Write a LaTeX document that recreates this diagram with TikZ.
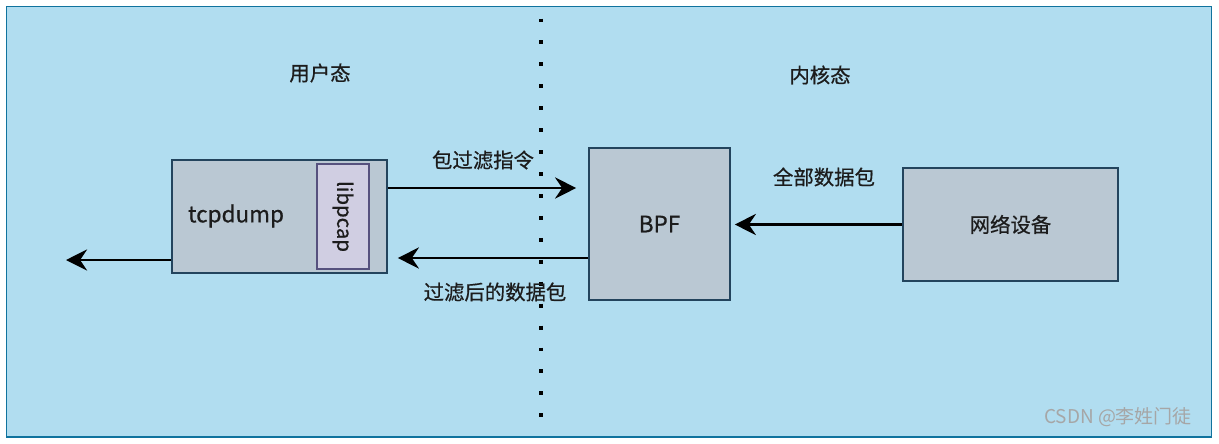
\documentclass[tikz,border=0pt]{standalone}
\usepackage{fontspec}
\setmainfont{Noto Sans CJK SC}[FakeBold=0.6]
\newfontfamily\markfont{Noto Sans CJK SC}
\usetikzlibrary{arrows.meta}

\definecolor{bgfill}{HTML}{B1DDF0}
\definecolor{bgline}{HTML}{10739E}
\definecolor{boxfill}{HTML}{BAC8D3}
\definecolor{boxline}{HTML}{23445D}
\definecolor{libfill}{HTML}{D0CEE2}
\definecolor{libline}{HTML}{56517E}
\definecolor{txt}{HTML}{1C1C1C}

\tikzset{
  blok/.style={draw=boxline, fill=boxfill, line width=1.1pt, inner sep=0pt},
  libblok/.style={draw=libline, fill=libfill, line width=1.1pt, inner sep=0pt},
  lbl/.style={text=txt, font=\fontsize{14.5}{16}\selectfont, inner sep=1pt},
  arr/.style={line width=2pt, -{Stealth[length=15pt,width=15pt,inset=5pt]}},
}

\begin{document}
\begin{tikzpicture}[x=0.025cm, y=-0.025cm]
  \useasboundingbox (0,0) rectangle (1219,443);
  % фон
  \draw[bgline, fill=bgfill, line width=1.2pt] (6.5,6.5) rectangle (1211.5,437);
  % граница user / kernel
  \draw[line width=2.8pt, dash pattern=on 2.8pt off 12.8pt] (541,18.5) -- (541,435);

  \node[lbl] (user) at (320,73) {用户态};
  \node[lbl] (kern) at (820,75) {内核态};

  % блоки
  \node[blok, minimum width=5.375cm, minimum height=2.825cm] (tcpdump) at (279.5,216.5) {};
  \node[lbl, font=\fontsize{16}{18}\selectfont] (tcpdumptxt) at (236,216) {tcpdump};
  \node[libblok, minimum width=1.3cm, minimum height=2.625cm] (libpcap) at (343,216.5) {};
  \node[lbl, rotate=-90] (libpcaptxt) at (libpcap) {libpcap};
  \node[blok, minimum width=3.525cm, minimum height=3.8cm, lbl, font=\fontsize{16}{18}\selectfont] (bpf) at (659.5,224) {BPF};
  \node[blok, minimum width=5.375cm, minimum height=2.825cm, lbl] (net) at (1010.5,224.5) {网络设备};
  \coordinate (out) at (66,260);

  % стрелки
  \draw[arr, shorten >=0.3cm] (tcpdump.east |- 0,188) -- (bpf.west |- 0,188);
  \draw[arr, shorten >=0.25cm] (bpf.west |- 0,258) -- (tcpdump.east |- 0,258);
  \draw[arr, shorten >=0.1cm] (net.west) -- (bpf.east |- net.west);
  \draw[arr] (tcpdump.west |- out) -- (out);

  \node[lbl] (cmd) at (483,160) {包过滤指令};
  \node[lbl] (filtered) at (495,292) {过滤后的数据包};
  \node[lbl] (allpkt) at (824,177) {全部数据包};

  \node[text=black!35, font=\markfont\fontsize{13.5}{15}\selectfont] (mark) at (1118,417) {CSDN @李姓门徒};
\end{tikzpicture}
\end{document}
